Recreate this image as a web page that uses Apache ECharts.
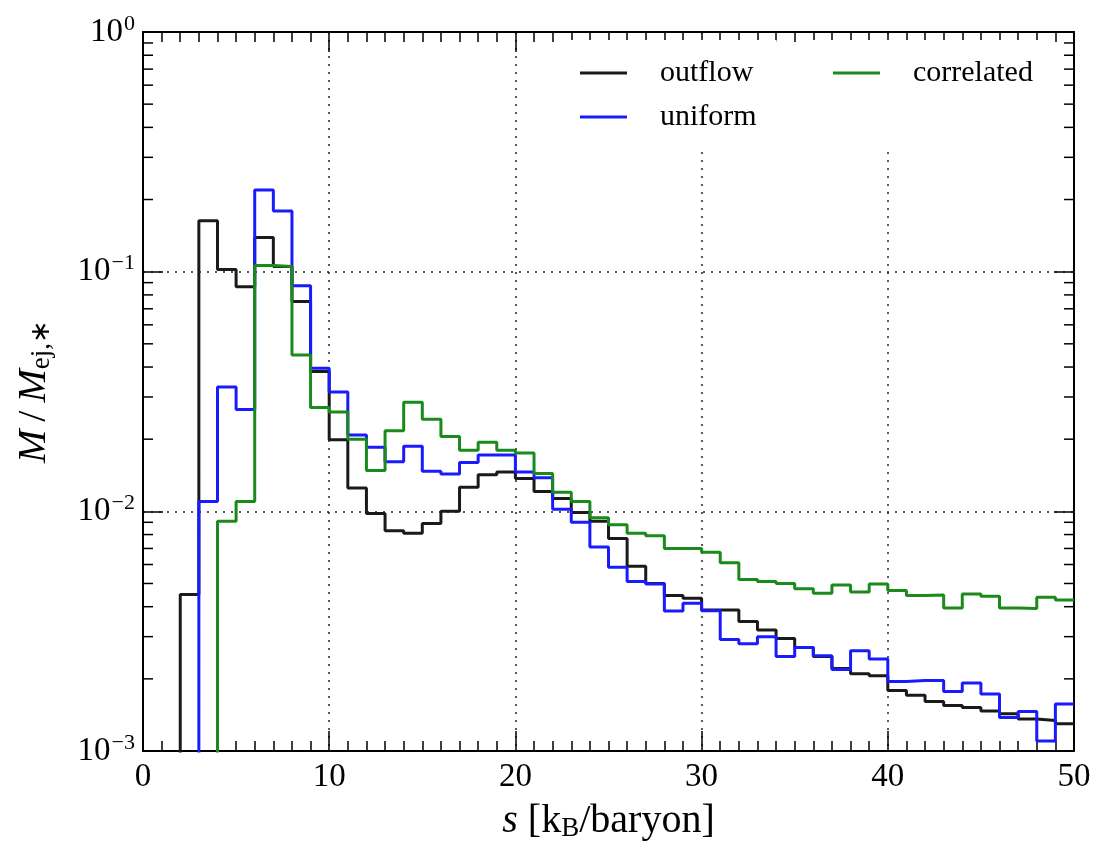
<!DOCTYPE html>
<html>
<head>
<meta charset="utf-8">
<script src="https://cdn.jsdelivr.net/npm/echarts@6/dist/echarts.min.js"></script>
<style>
  html, body { margin: 0; background: #fff; }
  #chart { width: 1107px; height: 863px; }
</style>
</head>
<body>
<div id="chart"></div>
<script>
// left edges of the 1 kB/baryon bins
var binEdges = [0, 1, 2, 3, 4, 5, 6, 7, 8, 9, 10, 11, 12, 13, 14, 15, 16, 17, 18, 19,
    20, 21, 22, 23, 24, 25, 26, 27, 28, 29, 30, 31, 32, 33, 34, 35, 36, 37, 38, 39,
    40, 41, 42, 43, 44, 45, 46, 47, 48, 49];
var binEnd = 50;

var outflow = [0, 0, 0.0045, 0.163, 0.102, 0.0866, 0.139, 0.105, 0.075, 0.0383,
    0.0199, 0.0125, 0.0098, 0.0083, 0.0081, 0.0089, 0.0100, 0.0126, 0.0142, 0.0146,
    0.0137, 0.0121, 0.0113, 0.0099, 0.0091, 0.0077, 0.0059, 0.0050, 0.00445, 0.00434,
    0.00388, 0.00388, 0.00347, 0.0032, 0.00295, 0.0027, 0.00248, 0.00221, 0.0021, 0.00206,
    0.00179, 0.00171, 0.00161, 0.00155, 0.00152, 0.00147, 0.00143, 0.00136, 0.00134, 0.0013];

var uniform = [0, 0, 0, 0.011, 0.033, 0.0266, 0.219, 0.179, 0.0874, 0.0395,
    0.0315, 0.0208, 0.0185, 0.0161, 0.0187, 0.0147, 0.0143, 0.016, 0.0172, 0.0172,
    0.0146, 0.0138, 0.0102, 0.009, 0.0071, 0.00585, 0.0051, 0.00498, 0.00384, 0.00414,
    0.00385, 0.00292, 0.0028, 0.003, 0.00248, 0.0027, 0.0025, 0.00219, 0.00262, 0.00242,
    0.00195, 0.00197, 0.00197, 0.00177, 0.00192, 0.00173, 0.00138, 0.00146, 0.0011, 0.00157];

var correlated = [0, 0, 0, 0, 0.0091, 0.011, 0.106, 0.105, 0.0449, 0.0271,
    0.026, 0.02, 0.0148, 0.0217, 0.0285, 0.0242, 0.0205, 0.018, 0.0194, 0.018,
    0.0175, 0.0144, 0.012, 0.011, 0.0094, 0.0088, 0.0081, 0.0079, 0.007, 0.007,
    0.00675, 0.0061, 0.0052, 0.0051, 0.005, 0.00475, 0.00455, 0.00493, 0.00461, 0.00498,
    0.00467, 0.00445, 0.00448, 0.00395, 0.00452, 0.00442, 0.00395, 0.00393, 0.00438, 0.00427];

var xTicks = [0, 10, 20, 30, 40, 50];
var yTicks = [1e-3, 1e-2, 1e-1, 1];

var FONT = 'Liberation Serif';
var EMPTY = 1e-7; // empty bins sit below the log axis and get clipped

// step histogram: one point per left edge, plus the closing right edge
function stepData(vals) {
    var d = binEdges.map(function (x, i) {
        return [x, vals[i] > 0 ? vals[i] : EMPTY];
    });
    d.push([binEnd, vals[vals.length - 1]]);
    return d;
}

function supLabel(v) {
    var e = Math.round(Math.log10(v));
    return '{b|10}{s|' + (e < 0 ? '\u2212' + (-e) : e) + '}';
}

var chart = echarts.init(document.getElementById('chart'));

var tickStyle = { color: '#000', width: 1.5 };
var gridStyle = { color: '#222', width: 1.5, type: [2, 6] };

var nameRich = {
    i: { fontFamily: FONT, fontStyle: 'italic', fontSize: 40, color: '#000' },
    r: { fontFamily: FONT, fontSize: 40, color: '#000' },
    sub: { fontFamily: FONT, fontSize: 27, color: '#000', padding: [14, 0, 0, 0] }
};

function xAxisOpt(pos, main) {
    return {
        type: 'value', position: pos, min: xTicks[0], max: xTicks[xTicks.length - 1], interval: 10,
        axisLine: { show: true, onZero: false, lineStyle: { color: '#000', width: 2 } },
        axisTick: { show: true, inside: true, length: 20, lineStyle: tickStyle },
        minorTick: { show: true, splitNumber: 10, length: 10, lineStyle: tickStyle },
        splitLine: { show: main, lineStyle: gridStyle },
        axisLabel: {
            show: main, margin: 10, color: '#000', fontFamily: FONT, fontSize: 33,
            showMinLabel: true, showMaxLabel: true
        },
        name: main ? '{i|s}{r| [k}{sub|B}{r|/baryon]}' : '',
        nameLocation: 'middle', nameGap: 50,
        nameTextStyle: { color: '#000', rich: nameRich }
    };
}

function yAxisOpt(pos, main) {
    return {
        type: 'log', logBase: 10, position: pos, min: yTicks[0], max: yTicks[yTicks.length - 1],
        axisLine: { show: true, onZero: false, lineStyle: { color: '#000', width: 2 } },
        axisTick: { show: true, inside: true, length: 20, lineStyle: tickStyle },
        splitLine: { show: main, lineStyle: gridStyle },
        axisLabel: {
            show: main, margin: 8, formatter: supLabel,
            showMinLabel: true, showMaxLabel: true,
            rich: {
                b: { fontFamily: FONT, fontSize: 33, color: '#000' },
                s: { fontFamily: FONT, fontSize: 22, color: '#000', padding: [0, 0, 16, 1] }
            }
        },
        name: main ? '{i|M}{r|\u2009/\u2009}{i|M}{sub|ej,\u2217}' : '',
        nameLocation: 'middle', nameRotate: 90, nameGap: 88,
        nameTextStyle: { color: '#000', rich: nameRich }
    };
}

function legendOpt(names, left, padBottom) {
    return {
        data: names, orient: 'vertical', left: left, top: 40,
        padding: [18, 20, padBottom, 20], backgroundColor: '#fff',
        icon: 'rect', itemWidth: 47, itemHeight: 3, itemGap: 14,
        selectedMode: false,
        formatter: '{t|{name}}',
        textStyle: {
            rich: { t: { fontFamily: FONT, fontSize: 30, color: '#000', height: 30, lineHeight: 30, padding: [0, 0, 0, 28] } }
        }
    };
}

function histSeries(name, vals, color) {
    return {
        name: name, type: 'line', step: 'end', data: stepData(vals),
        xAxisIndex: 0, yAxisIndex: 0,
        symbol: 'none', clip: true,
        lineStyle: { color: color, width: 3 },
        itemStyle: { color: color }
    };
}

chart.setOption({
    animation: false,
    backgroundColor: '#fff',
    grid: { left: 143, right: 33, top: 32, bottom: 112 },
    xAxis: [xAxisOpt('bottom', true), xAxisOpt('top', false)],
    yAxis: [yAxisOpt('left', true), yAxisOpt('right', false)],
    legend: [legendOpt(['outflow', 'uniform'], 560, 18), legendOpt(['correlated'], 813, 62)],
    series: [
        histSeries('outflow', outflow, '#1a1a1a'),
        histSeries('uniform', uniform, '#1a1aff'),
        histSeries('correlated', correlated, '#1a8a1a')
    ]
});

// log minor ticks (2..9 x 10^k) on left and right spines
var x0 = chart.convertToPixel({ xAxisIndex: 0 }, xTicks[0]);
var x1 = chart.convertToPixel({ xAxisIndex: 0 }, xTicks[xTicks.length - 1]);
var minor = [];
for (var k = 0; k < yTicks.length - 1; k++) {
    for (var m = 2; m <= 9; m++) {
        var py = chart.convertToPixel({ yAxisIndex: 0 }, m * yTicks[k]);
        minor.push({ type: 'line', shape: { x1: x0, y1: py, x2: x0 + 10, y2: py }, style: { stroke: '#000', lineWidth: 1.5 }, silent: true });
        minor.push({ type: 'line', shape: { x1: x1 - 10, y1: py, x2: x1, y2: py }, style: { stroke: '#000', lineWidth: 1.5 }, silent: true });
    }
}
chart.setOption({ graphic: minor });
</script>
</body>
</html>
